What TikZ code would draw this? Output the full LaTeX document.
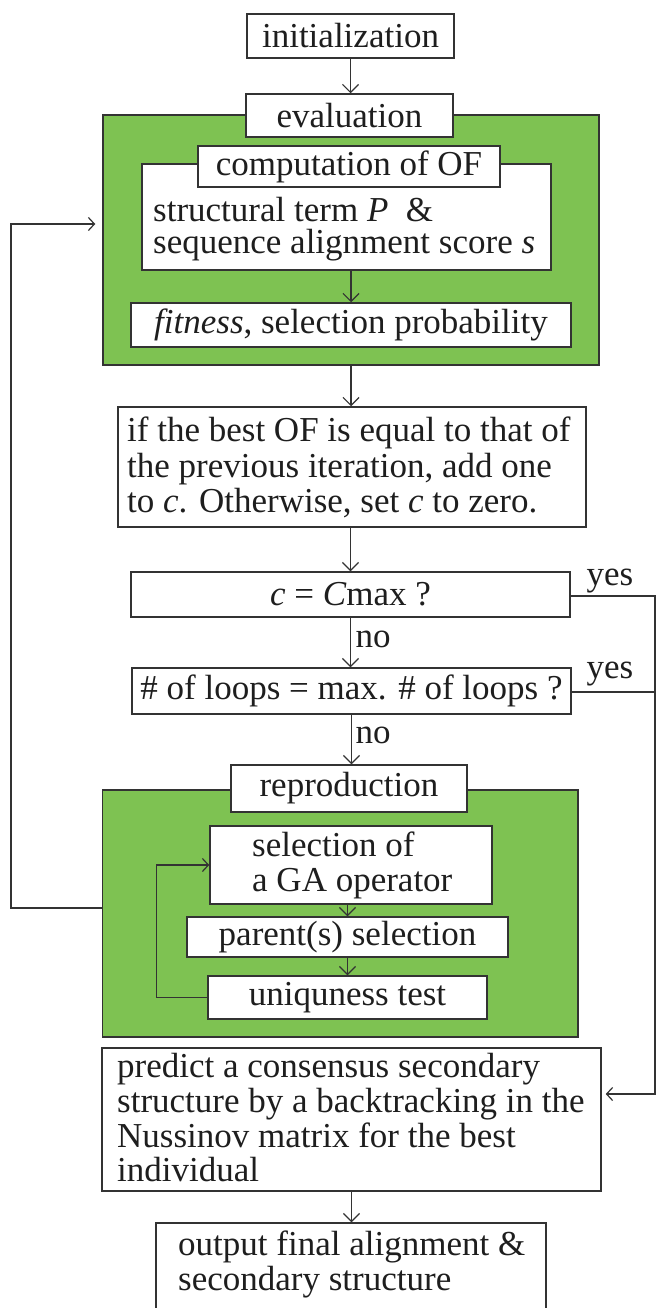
\documentclass[tikz,border=0pt]{standalone}
\usepackage{fontspec}
\setmainfont{Liberation Serif}
\usetikzlibrary{arrows.meta}
\definecolor{gfill}{RGB}{126,194,82}
\definecolor{lcol}{RGB}{51,51,51}
\definecolor{tcol}{RGB}{30,30,30}
\begin{document}
\begin{tikzpicture}[x=1pt,y=-1pt,
  box/.style={draw=lcol, line width=1.5pt, fill=white, inner sep=0pt, text=tcol, font=\fontsize{35}{35.5}\selectfont},
  gbox/.style={draw=lcol, line width=1.5pt, fill=gfill, inner sep=0pt},
  txt/.style={inner sep=0pt, text=tcol, align=left, anchor=north west},
  lbl/.style={inner sep=0pt, text=tcol, font=\fontsize{35}{35.5}\selectfont, anchor=base},
  conn/.style={draw=lcol, line width=1.2pt},
  va/.style={conn, -{Straight Barb[length=8pt,width=16pt]}},
  ha/.style={conn, -{Straight Barb[length=6pt,width=13pt]}},
]
\useasboundingbox (0,0) rectangle (656,1308);
\clip (0,0) rectangle (656,1308);
\fill[white] (0,0) rectangle (656,1308);

% ---- top
\node[box, minimum width=207pt, minimum height=44pt] (init) at (350.5,36) {initialization};

\node[gbox, minimum width=496pt, minimum height=250pt] (g1) at (351,240) {};
\node[box, minimum width=207pt, minimum height=43pt] (eval) at (349.5,115.5) {evaluation};
\node[box, minimum width=409pt, minimum height=106pt] (struct) at (346.5,217) {};
\node[box, minimum width=302pt, minimum height=41pt] (comp) at (349,166.5) {computation of OF};
\node[txt, font=\fontsize{35}{32.3}\selectfont] (structtxt) at (153,197) {structural term \textit{P}\ \ \&\\sequence alignment score \textit{s}};
\node[box, minimum width=440pt, minimum height=44pt] (fit) at (351,325) {\textit{fitness}, selection probability};

% ---- middle
\node[box, minimum width=468pt, minimum height=120pt] (ifb) at (352,467) {};
\node[txt, font=\fontsize{35}{35.5}\selectfont] (iftxt) at (127,417) {if the best OF is equal to that of\\the previous iteration, add one\\to \textit{c}. Otherwise, set \textit{c} to zero.};

\node[box, minimum width=439pt, minimum height=45pt] (cmax) at (350.5,594.5) {\textit{c} = \textit{C}max ?};
\node[box, minimum width=439pt, minimum height=46pt] (loops) at (351.5,691) {\# of loops = max. \# of loops ?};

\node[lbl] (yes1) at (610,585) {yes};
\node[lbl] (yes2) at (610,678) {yes};
\node[lbl] (no1) at (373,647) {no};
\node[lbl] (no2) at (373,743) {no};

% ---- reproduction
\node[gbox, minimum width=475.5pt, minimum height=247pt] (g2) at (340.25,913.5) {};
\node[box, minimum width=236pt, minimum height=47pt] (repro) at (349,788.5) {reproduction};
\node[box, minimum width=282pt, minimum height=78pt] (selga) at (351,865) {};
\node[txt, font=\fontsize{35}{35}\selectfont] (selgatxt) at (252,832) {selection of\\a GA operator};
\node[box, minimum width=321pt, minimum height=40pt] (parent) at (347.5,937) {parent(s) selection};
\node[box, minimum width=279pt, minimum height=43pt] (uniq) at (347.5,997.5) {uniquness test};

% ---- bottom
\node[box, minimum width=499pt, minimum height=143pt] (pred) at (351.5,1119.5) {};
\node[txt, font=\fontsize{35}{34.8}\selectfont] (predtxt) at (117,1053) {predict a consensus secondary\\structure by a backtracking in the\\Nussinov matrix for the best\\individual};
\node[box, minimum width=390pt, minimum height=97pt] (out) at (351,1271.5) {};
\node[txt, font=\fontsize{35}{35}\selectfont] (outtxt) at (178,1231) {output final alignment \&\\secondary structure};

% ---- connectors
\draw[va] (init.south) -- (init.south |- eval.north);
\draw[va] (fit.north |- struct.south) -- (fit.north);
\draw[va] (g1.south) -- (g1.south |- ifb.north);
\draw[va] (cmax.north |- ifb.south) -- (cmax.north);
\draw[va] (cmax.south) -- (cmax.south |- loops.north);
\draw[va] (loops.south) -- (loops.south |- repro.north);
\draw[va] (parent.north |- selga.south) -- (parent.north);
\draw[va] (parent.south) -- (parent.south |- uniq.north);
\draw[va] (pred.south) -- (pred.south |- out.north);

% inner loop
\draw[ha] (uniq.west) -- ++(-51,0) |- (selga.west);

% outer loop
\coordinate (lx) at (11,224);
\draw[ha, shorten >=7pt] ([yshift=5.5pt]g2.west) -| (lx) -- (g1.west |- lx);

% right side
\coordinate (rt) at (655,1094);
\draw[ha] ([yshift=-1.5pt]cmax.east) -| (rt) -- ([xshift=4pt]pred.east |- rt);
\draw[conn] ([yshift=-1pt]loops.east) -- ([yshift=-1pt]loops.east -| rt);
\end{tikzpicture}
\end{document}
